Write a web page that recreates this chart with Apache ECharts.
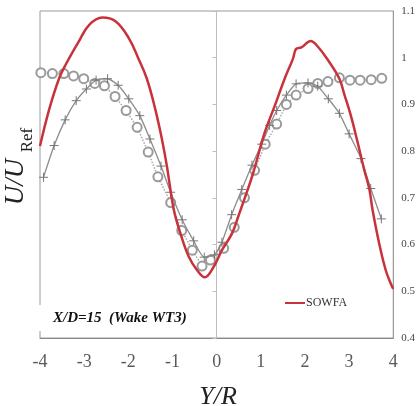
<!DOCTYPE html>
<html>
<head>
<meta charset="utf-8">
<script src="https://cdn.jsdelivr.net/npm/echarts@6/dist/echarts.min.js"></script>
<style>
  html, body { margin: 0; padding: 0; background: #fff; }
  #chart { width: 418px; height: 406px; }
</style>
</head>
<body>
<div id="chart"></div>
<script>
// ticks
var xTicks = [-4, -3, -2, -1, 0, 1, 2, 3, 4];
var yTicks = [0.4, 0.5, 0.6, 0.7, 0.8, 0.9, 1.0, 1.1];

// SOWFA (red line)
var sowfaX = [-4.0, -3.79, -3.57, -3.42, -3.12, -2.89, -2.59, -2.29, -1.99, -1.77, -1.58, -1.39, -1.24, -1.13,
              -0.97, -0.82, -0.63, -0.44, -0.27, -0.07, 0.12, 0.35, 0.49, 0.68, 0.83, 1.09, 1.32, 1.54, 1.73,
              1.80, 1.92, 2.13, 2.29, 2.52, 2.78, 2.89, 3.04, 3.19, 3.34, 3.46, 3.53, 3.68, 3.83, 3.96, 4.0];
var sowfaU = [0.811, 0.89, 0.955, 0.985, 1.035, 1.07, 1.086, 1.078, 1.042, 0.998, 0.955, 0.89, 0.826, 0.77,
              0.675, 0.624, 0.574, 0.545, 0.530, 0.552, 0.588, 0.624, 0.66, 0.711, 0.754, 0.84, 0.898, 0.955, 0.998,
              1.019, 1.022, 1.036, 1.024, 0.995, 0.955, 0.922, 0.876, 0.82, 0.761, 0.718, 0.675, 0.603, 0.545, 0.513, 0.505];

// measurements (circles, dotted)
var measX = [-3.98, -3.72, -3.46, -3.24, -3.01, -2.76, -2.54, -2.30, -2.05, -1.80, -1.55, -1.33, -1.04, -0.79,
             -0.55, -0.33, -0.14, 0.16, 0.40, 0.63, 0.86, 1.10, 1.36, 1.58, 1.80, 2.07, 2.29, 2.52, 2.78,
             3.02, 3.25, 3.50, 3.74];
var measU = [0.968, 0.966, 0.966, 0.961, 0.955, 0.945, 0.940, 0.917, 0.887, 0.851, 0.798, 0.745, 0.690, 0.630,
             0.588, 0.554, 0.567, 0.592, 0.637, 0.700, 0.759, 0.815, 0.858, 0.900, 0.920, 0.934, 0.945, 0.949, 0.957,
             0.952, 0.952, 0.953, 0.956];

// other model (plus markers, solid grey)
var modelX = [-3.92, -3.68, -3.43, -3.18, -2.95, -2.73, -2.47, -2.23, -1.99, -1.74, -1.51, -1.26, -1.04, -0.78,
              -0.52, -0.28, -0.05, 0.12, 0.34, 0.57, 0.80, 1.02, 1.20, 1.36, 1.58, 1.80, 2.07, 2.29, 2.53,
              2.78, 3.00, 3.27, 3.49, 3.73];
var modelU = [0.744, 0.812, 0.867, 0.908, 0.933, 0.952, 0.955, 0.941, 0.912, 0.876, 0.826, 0.768, 0.712, 0.653,
              0.608, 0.573, 0.578, 0.605, 0.664, 0.718, 0.770, 0.815, 0.855, 0.887, 0.920, 0.944, 0.946, 0.939, 0.912,
              0.881, 0.837, 0.784, 0.720, 0.655];

function pairs(xs, ys) {
    return xs.map(function (x, i) { return [x, ys[i]]; });
}

var serif = '"Liberation Serif", "DejaVu Serif", serif';
var myChart = echarts.init(document.getElementById('chart'));

myChart.setOption({
    backgroundColor: '#fff',
    animation: false,
    grid: {
        left: 40, right: 23, top: 11, bottom: 68,
        show: true, borderColor: '#9a9a9a', borderWidth: 1
    },
    legend: {
        data: ['SOWFA'],
        left: 280, top: 292,
        icon: 'rect',
        itemWidth: 20, itemHeight: 2,
        textStyle: { fontFamily: serif, fontSize: 12, color: '#333', padding: [0, 0, 0, -4] }
    },
    xAxis: {
        type: 'value',
        min: xTicks[0], max: xTicks[xTicks.length - 1], interval: 1,
        splitLine: { show: false },
        axisTick: { show: false },
        axisLine: { lineStyle: { color: '#8a8a8a' } },
        axisLabel: { fontFamily: serif, fontSize: 18, color: '#5a5a5a', margin: 15 }
    },
    yAxis: [
        {
            type: 'value', position: 'right',
            min: yTicks[0], max: yTicks[yTicks.length - 1], interval: 0.1,
            splitLine: { show: false },
            axisLine: { show: true, onZero: false, lineStyle: { color: '#9a9a9a' } },
            axisTick: { show: false },
            axisLabel: {
                fontFamily: serif, fontSize: 11, color: '#444', margin: 8,
                formatter: function (v) { return String(Math.round(v * 10) / 10); }
            }
        },
        {
            type: 'value', position: 'left',
            min: yTicks[0], max: yTicks[yTicks.length - 1], interval: 0.1,
            splitLine: { show: false },
            axisLine: { show: true, onZero: true, lineStyle: { color: '#bdbdbd' } },
            axisTick: { show: true, length: 4, lineStyle: { color: '#bdbdbd' } },
            axisLabel: { show: false }
        }
    ],
    graphic: [
        { type: 'rect', left: 38, top: 305, shape: { width: 4, height: 26 }, style: { fill: '#fff' }, z: 100 },
        {
            type: 'text', left: 53, top: 311, z: 101,
            style: { text: 'X/D=15  (Wake WT3)', font: 'italic bold 15px ' + serif, fill: '#111' }
        },
        {
            type: 'text', x: 218, y: 397, z: 101,
            style: { text: 'Y/R', font: 'italic 26px ' + serif, fill: '#222', align: 'center', verticalAlign: 'middle' }
        },
        {
            type: 'text', x: 16, y: 182, rotation: Math.PI / 2, z: 101,
            style: { text: 'U/U', font: 'italic 27px ' + serif, fill: '#222', align: 'center', verticalAlign: 'middle' }
        },
        {
            type: 'text', x: 28, y: 140, rotation: Math.PI / 2, z: 101,
            style: { text: 'Ref', font: '17px ' + serif, fill: '#222', align: 'center', verticalAlign: 'middle' }
        }
    ],
    series: [
        {
            name: 'Measured',
            type: 'line',
            data: pairs(measX, measU),
            symbol: 'emptyCircle', symbolSize: 9,
            itemStyle: { color: '#9a9a9a', borderWidth: 1.5 },
            lineStyle: { color: '#aaaaaa', width: 1.5, type: 'dotted' },
            z: 2
        },
        {
            name: 'Model',
            type: 'line',
            data: pairs(modelX, modelU),
            symbol: 'path://M0,5 L10,5 M5,0 L5,10', symbolSize: 9,
            itemStyle: { color: 'none', borderColor: '#777', borderWidth: 1 },
            lineStyle: { color: '#8c8c8c', width: 1.3 },
            smooth: 0.2,
            z: 3
        },
        {
            name: 'SOWFA',
            type: 'line',
            data: pairs(sowfaX, sowfaU),
            symbol: 'none',
            smooth: 0.4,
            itemStyle: { color: '#c8323b' },
            lineStyle: { color: '#c8323b', width: 2.5 },
            z: 4
        }
    ]
});
</script>
</body>
</html>
